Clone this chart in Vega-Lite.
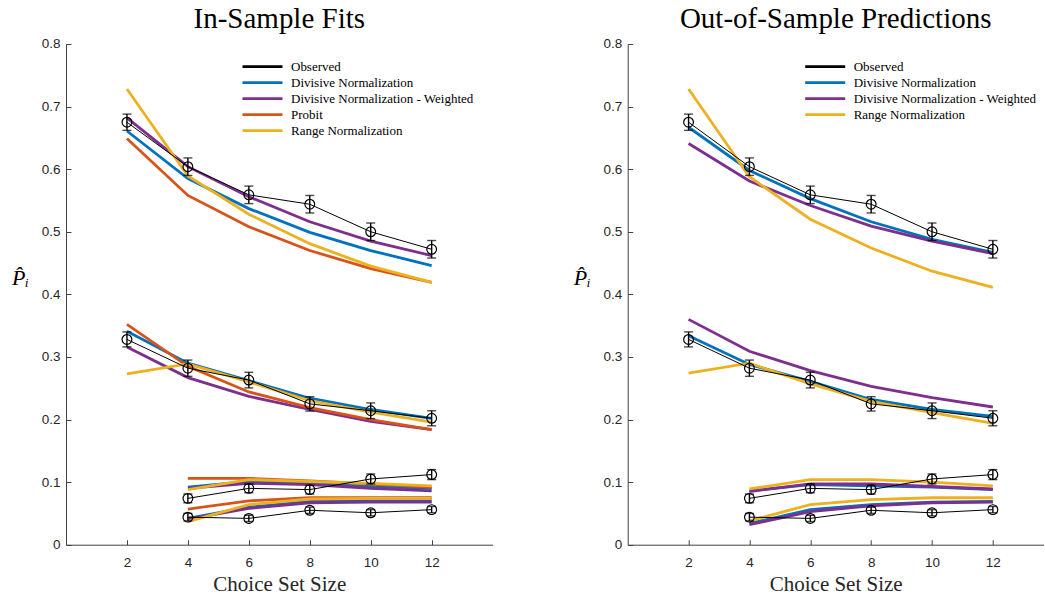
{
  "$schema": "https://vega.github.io/schema/vega-lite/v6.json",
  "background": "white",
  "padding": {"left": 11, "top": 5, "right": 0, "bottom": 0},
  "spacing": 134.7,
  "bounds": "flush",
  "datasets": {
    "obs": [
      {"m":"Observed","g":1,"x":2,"y":0.675,"lo":0.662,"hi":0.688},
      {"m":"Observed","g":1,"x":4,"y":0.604,"lo":0.590,"hi":0.618},
      {"m":"Observed","g":1,"x":6,"y":0.559,"lo":0.545,"hi":0.573},
      {"m":"Observed","g":1,"x":8,"y":0.544,"lo":0.530,"hi":0.558},
      {"m":"Observed","g":1,"x":10,"y":0.500,"lo":0.486,"hi":0.514},
      {"m":"Observed","g":1,"x":12,"y":0.472,"lo":0.458,"hi":0.486},
      {"m":"Observed","g":2,"x":2,"y":0.328,"lo":0.316,"hi":0.340},
      {"m":"Observed","g":2,"x":4,"y":0.282,"lo":0.269,"hi":0.295},
      {"m":"Observed","g":2,"x":6,"y":0.263,"lo":0.2505,"hi":0.2755},
      {"m":"Observed","g":2,"x":8,"y":0.225,"lo":0.2135,"hi":0.2365},
      {"m":"Observed","g":2,"x":10,"y":0.214,"lo":0.2015,"hi":0.2265},
      {"m":"Observed","g":2,"x":12,"y":0.202,"lo":0.190,"hi":0.214},
      {"m":"Observed","g":3,"x":4,"y":0.074,"lo":0.067,"hi":0.081},
      {"m":"Observed","g":3,"x":6,"y":0.090,"lo":0.083,"hi":0.097},
      {"m":"Observed","g":3,"x":8,"y":0.088,"lo":0.081,"hi":0.095},
      {"m":"Observed","g":3,"x":10,"y":0.105,"lo":0.097,"hi":0.113},
      {"m":"Observed","g":3,"x":12,"y":0.112,"lo":0.104,"hi":0.120},
      {"m":"Observed","g":4,"x":4,"y":0.044,"lo":0.038,"hi":0.050},
      {"m":"Observed","g":4,"x":6,"y":0.042,"lo":0.037,"hi":0.047},
      {"m":"Observed","g":4,"x":8,"y":0.055,"lo":0.050,"hi":0.060},
      {"m":"Observed","g":4,"x":10,"y":0.051,"lo":0.046,"hi":0.056},
      {"m":"Observed","g":4,"x":12,"y":0.056,"lo":0.051,"hi":0.061}
    ],
    "left": [
      {"m":"Divisive Normalization","g":1,"x":2,"y":0.661},
      {"m":"Divisive Normalization","g":1,"x":4,"y":0.585},
      {"m":"Divisive Normalization","g":1,"x":6,"y":0.537},
      {"m":"Divisive Normalization","g":1,"x":8,"y":0.499},
      {"m":"Divisive Normalization","g":1,"x":10,"y":0.470},
      {"m":"Divisive Normalization","g":1,"x":12,"y":0.446},
      {"m":"Divisive Normalization","g":2,"x":2,"y":0.341},
      {"m":"Divisive Normalization","g":2,"x":4,"y":0.290},
      {"m":"Divisive Normalization","g":2,"x":6,"y":0.262},
      {"m":"Divisive Normalization","g":2,"x":8,"y":0.234},
      {"m":"Divisive Normalization","g":2,"x":10,"y":0.216},
      {"m":"Divisive Normalization","g":2,"x":12,"y":0.202},
      {"m":"Divisive Normalization","g":3,"x":4,"y":0.092},
      {"m":"Divisive Normalization","g":3,"x":6,"y":0.101},
      {"m":"Divisive Normalization","g":3,"x":8,"y":0.098},
      {"m":"Divisive Normalization","g":3,"x":10,"y":0.093},
      {"m":"Divisive Normalization","g":3,"x":12,"y":0.090},
      {"m":"Divisive Normalization","g":4,"x":4,"y":0.042},
      {"m":"Divisive Normalization","g":4,"x":6,"y":0.060},
      {"m":"Divisive Normalization","g":4,"x":8,"y":0.069},
      {"m":"Divisive Normalization","g":4,"x":10,"y":0.070},
      {"m":"Divisive Normalization","g":4,"x":12,"y":0.070},
      {"m":"Divisive Normalization - Weighted","g":1,"x":2,"y":0.682},
      {"m":"Divisive Normalization - Weighted","g":1,"x":4,"y":0.604},
      {"m":"Divisive Normalization - Weighted","g":1,"x":6,"y":0.556},
      {"m":"Divisive Normalization - Weighted","g":1,"x":8,"y":0.516},
      {"m":"Divisive Normalization - Weighted","g":1,"x":10,"y":0.485},
      {"m":"Divisive Normalization - Weighted","g":1,"x":12,"y":0.462},
      {"m":"Divisive Normalization - Weighted","g":2,"x":2,"y":0.316},
      {"m":"Divisive Normalization - Weighted","g":2,"x":4,"y":0.267},
      {"m":"Divisive Normalization - Weighted","g":2,"x":6,"y":0.237},
      {"m":"Divisive Normalization - Weighted","g":2,"x":8,"y":0.216},
      {"m":"Divisive Normalization - Weighted","g":2,"x":10,"y":0.197},
      {"m":"Divisive Normalization - Weighted","g":2,"x":12,"y":0.184},
      {"m":"Divisive Normalization - Weighted","g":3,"x":4,"y":0.090},
      {"m":"Divisive Normalization - Weighted","g":3,"x":6,"y":0.098},
      {"m":"Divisive Normalization - Weighted","g":3,"x":8,"y":0.096},
      {"m":"Divisive Normalization - Weighted","g":3,"x":10,"y":0.090},
      {"m":"Divisive Normalization - Weighted","g":3,"x":12,"y":0.086},
      {"m":"Divisive Normalization - Weighted","g":4,"x":4,"y":0.041},
      {"m":"Divisive Normalization - Weighted","g":4,"x":6,"y":0.058},
      {"m":"Divisive Normalization - Weighted","g":4,"x":8,"y":0.067},
      {"m":"Divisive Normalization - Weighted","g":4,"x":10,"y":0.068},
      {"m":"Divisive Normalization - Weighted","g":4,"x":12,"y":0.068},
      {"m":"Probit","g":1,"x":2,"y":0.649},
      {"m":"Probit","g":1,"x":4,"y":0.558},
      {"m":"Probit","g":1,"x":6,"y":0.508},
      {"m":"Probit","g":1,"x":8,"y":0.470},
      {"m":"Probit","g":1,"x":10,"y":0.441},
      {"m":"Probit","g":1,"x":12,"y":0.419},
      {"m":"Probit","g":2,"x":2,"y":0.352},
      {"m":"Probit","g":2,"x":4,"y":0.285},
      {"m":"Probit","g":2,"x":6,"y":0.244},
      {"m":"Probit","g":2,"x":8,"y":0.219},
      {"m":"Probit","g":2,"x":10,"y":0.200},
      {"m":"Probit","g":2,"x":12,"y":0.184},
      {"m":"Probit","g":3,"x":4,"y":0.106},
      {"m":"Probit","g":3,"x":6,"y":0.106},
      {"m":"Probit","g":3,"x":8,"y":0.102},
      {"m":"Probit","g":3,"x":10,"y":0.097},
      {"m":"Probit","g":3,"x":12,"y":0.092},
      {"m":"Probit","g":4,"x":4,"y":0.057},
      {"m":"Probit","g":4,"x":6,"y":0.070},
      {"m":"Probit","g":4,"x":8,"y":0.075},
      {"m":"Probit","g":4,"x":10,"y":0.075},
      {"m":"Probit","g":4,"x":12,"y":0.075},
      {"m":"Range Normalization","g":1,"x":2,"y":0.728},
      {"m":"Range Normalization","g":1,"x":4,"y":0.589},
      {"m":"Range Normalization","g":1,"x":6,"y":0.528},
      {"m":"Range Normalization","g":1,"x":8,"y":0.481},
      {"m":"Range Normalization","g":1,"x":10,"y":0.445},
      {"m":"Range Normalization","g":1,"x":12,"y":0.419},
      {"m":"Range Normalization","g":2,"x":2,"y":0.273},
      {"m":"Range Normalization","g":2,"x":4,"y":0.289},
      {"m":"Range Normalization","g":2,"x":6,"y":0.260},
      {"m":"Range Normalization","g":2,"x":8,"y":0.230},
      {"m":"Range Normalization","g":2,"x":10,"y":0.212},
      {"m":"Range Normalization","g":2,"x":12,"y":0.196},
      {"m":"Range Normalization","g":3,"x":4,"y":0.088},
      {"m":"Range Normalization","g":3,"x":6,"y":0.104},
      {"m":"Range Normalization","g":3,"x":8,"y":0.101},
      {"m":"Range Normalization","g":3,"x":10,"y":0.098},
      {"m":"Range Normalization","g":3,"x":12,"y":0.094},
      {"m":"Range Normalization","g":4,"x":4,"y":0.037},
      {"m":"Range Normalization","g":4,"x":6,"y":0.064},
      {"m":"Range Normalization","g":4,"x":8,"y":0.073},
      {"m":"Range Normalization","g":4,"x":10,"y":0.074},
      {"m":"Range Normalization","g":4,"x":12,"y":0.074}
    ],
    "right": [
      {"m":"Divisive Normalization","g":1,"x":2,"y":0.667},
      {"m":"Divisive Normalization","g":1,"x":4,"y":0.598},
      {"m":"Divisive Normalization","g":1,"x":6,"y":0.553},
      {"m":"Divisive Normalization","g":1,"x":8,"y":0.516},
      {"m":"Divisive Normalization","g":1,"x":10,"y":0.488},
      {"m":"Divisive Normalization","g":1,"x":12,"y":0.467},
      {"m":"Divisive Normalization","g":2,"x":2,"y":0.334},
      {"m":"Divisive Normalization","g":2,"x":4,"y":0.288},
      {"m":"Divisive Normalization","g":2,"x":6,"y":0.261},
      {"m":"Divisive Normalization","g":2,"x":8,"y":0.232},
      {"m":"Divisive Normalization","g":2,"x":10,"y":0.216},
      {"m":"Divisive Normalization","g":2,"x":12,"y":0.205},
      {"m":"Divisive Normalization","g":3,"x":4,"y":0.086},
      {"m":"Divisive Normalization","g":3,"x":6,"y":0.096},
      {"m":"Divisive Normalization","g":3,"x":8,"y":0.094},
      {"m":"Divisive Normalization","g":3,"x":10,"y":0.092},
      {"m":"Divisive Normalization","g":3,"x":12,"y":0.088},
      {"m":"Divisive Normalization","g":4,"x":4,"y":0.034},
      {"m":"Divisive Normalization","g":4,"x":6,"y":0.056},
      {"m":"Divisive Normalization","g":4,"x":8,"y":0.064},
      {"m":"Divisive Normalization","g":4,"x":10,"y":0.068},
      {"m":"Divisive Normalization","g":4,"x":12,"y":0.069},
      {"m":"Divisive Normalization - Weighted","g":1,"x":2,"y":0.641},
      {"m":"Divisive Normalization - Weighted","g":1,"x":4,"y":0.581},
      {"m":"Divisive Normalization - Weighted","g":1,"x":6,"y":0.542},
      {"m":"Divisive Normalization - Weighted","g":1,"x":8,"y":0.509},
      {"m":"Divisive Normalization - Weighted","g":1,"x":10,"y":0.485},
      {"m":"Divisive Normalization - Weighted","g":1,"x":12,"y":0.465},
      {"m":"Divisive Normalization - Weighted","g":2,"x":2,"y":0.360},
      {"m":"Divisive Normalization - Weighted","g":2,"x":4,"y":0.309},
      {"m":"Divisive Normalization - Weighted","g":2,"x":6,"y":0.278},
      {"m":"Divisive Normalization - Weighted","g":2,"x":8,"y":0.253},
      {"m":"Divisive Normalization - Weighted","g":2,"x":10,"y":0.235},
      {"m":"Divisive Normalization - Weighted","g":2,"x":12,"y":0.220},
      {"m":"Divisive Normalization - Weighted","g":3,"x":4,"y":0.085},
      {"m":"Divisive Normalization - Weighted","g":3,"x":6,"y":0.097},
      {"m":"Divisive Normalization - Weighted","g":3,"x":8,"y":0.097},
      {"m":"Divisive Normalization - Weighted","g":3,"x":10,"y":0.093},
      {"m":"Divisive Normalization - Weighted","g":3,"x":12,"y":0.089},
      {"m":"Divisive Normalization - Weighted","g":4,"x":4,"y":0.032},
      {"m":"Divisive Normalization - Weighted","g":4,"x":6,"y":0.053},
      {"m":"Divisive Normalization - Weighted","g":4,"x":8,"y":0.062},
      {"m":"Divisive Normalization - Weighted","g":4,"x":10,"y":0.067},
      {"m":"Divisive Normalization - Weighted","g":4,"x":12,"y":0.068},
      {"m":"Range Normalization","g":1,"x":2,"y":0.728},
      {"m":"Range Normalization","g":1,"x":4,"y":0.588},
      {"m":"Range Normalization","g":1,"x":6,"y":0.520},
      {"m":"Range Normalization","g":1,"x":8,"y":0.474},
      {"m":"Range Normalization","g":1,"x":10,"y":0.437},
      {"m":"Range Normalization","g":1,"x":12,"y":0.411},
      {"m":"Range Normalization","g":2,"x":2,"y":0.274},
      {"m":"Range Normalization","g":2,"x":4,"y":0.290},
      {"m":"Range Normalization","g":2,"x":6,"y":0.257},
      {"m":"Range Normalization","g":2,"x":8,"y":0.229},
      {"m":"Range Normalization","g":2,"x":10,"y":0.211},
      {"m":"Range Normalization","g":2,"x":12,"y":0.194},
      {"m":"Range Normalization","g":3,"x":4,"y":0.089},
      {"m":"Range Normalization","g":3,"x":6,"y":0.104},
      {"m":"Range Normalization","g":3,"x":8,"y":0.104},
      {"m":"Range Normalization","g":3,"x":10,"y":0.100},
      {"m":"Range Normalization","g":3,"x":12,"y":0.094},
      {"m":"Range Normalization","g":4,"x":4,"y":0.038},
      {"m":"Range Normalization","g":4,"x":6,"y":0.064},
      {"m":"Range Normalization","g":4,"x":8,"y":0.072},
      {"m":"Range Normalization","g":4,"x":10,"y":0.075},
      {"m":"Range Normalization","g":4,"x":12,"y":0.075}
    ]
  },
  "hconcat": [
    {
      "width": 426.6,
      "height": 500.7,
      "title": {"text": "In-Sample Fits"},
      "layer": [
        {
          "data": {"name": "left"},
          "mark": {"type": "line", "strokeWidth": 2.8},
          "encoding": {
            "x": {"field": "x", "type": "quantitative", "title": "Choice Set Size", "scale": {"domain": [0, 14], "nice": false, "zero": false}, "axis": {"values": [2, 4, 6, 8, 10, 12]}},
            "y": {"field": "y", "type": "quantitative", "title": "P̂ᵢ", "scale": {"domain": [0, 0.8], "nice": false}, "axis": {"values": [0, 0.1, 0.2, 0.3, 0.4, 0.5, 0.6, 0.7, 0.8], "format": ".1~f"}},
            "color": {"field": "m", "type": "nominal", "scale": {"domain": ["Observed", "Divisive Normalization", "Divisive Normalization - Weighted", "Probit", "Range Normalization"], "range": ["#000000", "#0072BD", "#7E2F8E", "#D95319", "#EDB120"]}, "legend": {"legendX": 175, "legendY": 16}},
            "detail": {"field": "g", "type": "nominal"}
          }
        },
        {
          "data": {"name": "obs"},
          "mark": {"type": "line", "strokeWidth": 1},
          "encoding": {
            "x": {"field": "x", "type": "quantitative", "title": "Choice Set Size"},
            "y": {"field": "y", "type": "quantitative", "title": "P̂ᵢ"},
            "color": {"field": "m", "type": "nominal"},
            "detail": {"field": "g", "type": "nominal"}
          }
        },
        {
          "data": {"name": "obs"},
          "mark": {"type": "errorbar", "color": "black", "thickness": 1.4, "ticks": {"size": 9, "thickness": 1.4, "color": "black"}},
          "encoding": {
            "x": {"field": "x", "type": "quantitative", "title": "Choice Set Size"},
            "y": {"field": "lo", "type": "quantitative", "title": "P̂ᵢ"},
            "y2": {"field": "hi"}
          }
        },
        {
          "data": {"name": "obs"},
          "mark": {"type": "point", "shape": "circle", "size": 95, "filled": false, "color": "black", "strokeWidth": 1.2, "opacity": 1},
          "encoding": {
            "x": {"field": "x", "type": "quantitative", "title": "Choice Set Size"},
            "y": {"field": "y", "type": "quantitative", "title": "P̂ᵢ"}
          }
        }
      ]
    },
    {
      "width": 416,
      "height": 500.7,
      "title": {"text": "Out-of-Sample Predictions"},
      "layer": [
        {
          "data": {"name": "right"},
          "mark": {"type": "line", "strokeWidth": 2.8},
          "encoding": {
            "x": {"field": "x", "type": "quantitative", "title": "Choice Set Size", "scale": {"domain": [0, 13.67], "nice": false, "zero": false}, "axis": {"values": [2, 4, 6, 8, 10, 12]}},
            "y": {"field": "y", "type": "quantitative", "title": "P̂ᵢ", "scale": {"domain": [0, 0.8], "nice": false}, "axis": {"values": [0, 0.1, 0.2, 0.3, 0.4, 0.5, 0.6, 0.7, 0.8], "format": ".1~f"}},
            "color": {"field": "m", "type": "nominal", "scale": {"domain": ["Observed", "Divisive Normalization", "Divisive Normalization - Weighted", "Range Normalization"], "range": ["#000000", "#0072BD", "#7E2F8E", "#EDB120"]}, "legend": {"legendX": 176, "legendY": 16}},
            "detail": {"field": "g", "type": "nominal"}
          }
        },
        {
          "data": {"name": "obs"},
          "mark": {"type": "line", "strokeWidth": 1},
          "encoding": {
            "x": {"field": "x", "type": "quantitative", "title": "Choice Set Size"},
            "y": {"field": "y", "type": "quantitative", "title": "P̂ᵢ"},
            "color": {"field": "m", "type": "nominal"},
            "detail": {"field": "g", "type": "nominal"}
          }
        },
        {
          "data": {"name": "obs"},
          "mark": {"type": "errorbar", "color": "black", "thickness": 1.4, "ticks": {"size": 9, "thickness": 1.4, "color": "black"}},
          "encoding": {
            "x": {"field": "x", "type": "quantitative", "title": "Choice Set Size"},
            "y": {"field": "lo", "type": "quantitative", "title": "P̂ᵢ"},
            "y2": {"field": "hi"}
          }
        },
        {
          "data": {"name": "obs"},
          "mark": {"type": "point", "shape": "circle", "size": 95, "filled": false, "color": "black", "strokeWidth": 1.2, "opacity": 1},
          "encoding": {
            "x": {"field": "x", "type": "quantitative", "title": "Choice Set Size"},
            "y": {"field": "y", "type": "quantitative", "title": "P̂ᵢ"}
          }
        }
      ]
    }
  ],
  "resolve": {"scale": {"color": "independent", "x": "independent"}, "legend": {"color": "independent"}},
  "config": {
    "view": {"stroke": null},
    "title": {"font": "Liberation Serif", "fontSize": 29, "fontWeight": "normal", "color": "black", "anchor": "middle", "offset": 3},
    "axis": {
      "grid": false,
      "domainColor": "#404040",
      "domainWidth": 1,
      "tickColor": "#404040",
      "tickSize": -5,
      "tickWidth": 1,
      "labelFont": "Liberation Sans",
      "labelFontSize": 13.5,
      "labelColor": "#262626",
      "titleColor": "#262626",
      "titleFontWeight": "normal"
    },
    "axisX": {"labelPadding": 16, "titleFont": "Liberation Serif", "titleFontSize": 21, "titlePadding": 4, "labelAngle": 0},
    "axisY": {"labelPadding": 11, "titleFont": "Liberation Serif", "titleFontStyle": "italic", "titleFontSize": 22, "titleAngle": 0, "titleAlign": "center", "titleBaseline": "middle", "titleX": -46, "titleY": 234, "titleColor": "black"},
    "legend": {
      "orient": "none",
      "title": null,
      "symbolType": "stroke",
      "symbolSize": 1600,
      "symbolStrokeWidth": 2.8,
      "labelFont": "Liberation Serif",
      "labelFontSize": 13,
      "labelColor": "black",
      "labelOffset": 7,
      "labelLimit": 0,
      "clipHeight": 13.2,
      "rowPadding": 2
    }
  }
}
